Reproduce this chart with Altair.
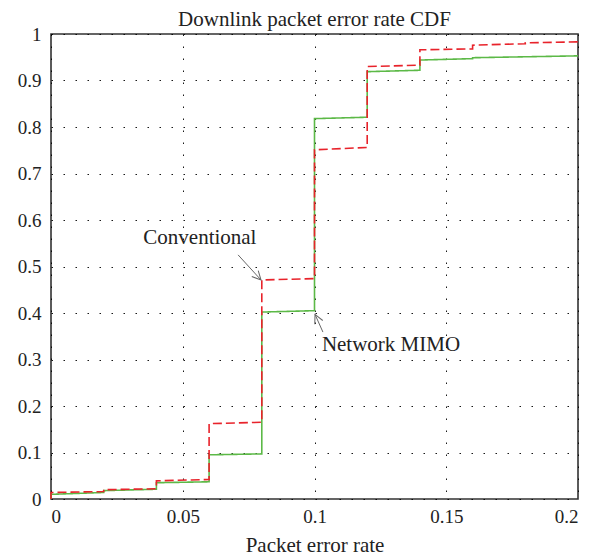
import altair as alt
import pandas as pd

# --- data ---
mimo_x = [0, 0, 0.02, 0.02, 0.04, 0.04, 0.06, 0.06, 0.08, 0.08, 0.10, 0.10, 0.12, 0.12, 0.14, 0.14, 0.16, 0.16, 0.20]
mimo_y = [0, 0.010, 0.014, 0.018, 0.021, 0.035, 0.037, 0.095, 0.097, 0.402, 0.405, 0.818, 0.821, 0.919, 0.922, 0.944, 0.947, 0.949, 0.953]

conv_x = [0, 0, 0.02, 0.02, 0.04, 0.04, 0.06, 0.06, 0.08, 0.08, 0.10, 0.10, 0.12, 0.12, 0.14, 0.14, 0.16, 0.16, 0.18, 0.18, 0.20]
conv_y = [0, 0.014, 0.016, 0.020, 0.022, 0.039, 0.042, 0.162, 0.165, 0.471, 0.474, 0.751, 0.756, 0.930, 0.933, 0.966, 0.968, 0.976, 0.979, 0.981, 0.983]

series_names = ["Network MIMO", "Conventional"]
series_colors = ["#5cb947", "#e8232b"]

label_text = ["Conventional", "Network MIMO"]
label_x = [0.0565, 0.1028]
label_y = [0.561, 0.331]
label_align = ["center", "left"]

arrow_x = [0.0710, 0.1032]
arrow_y = [0.525, 0.359]
arrow_tip_x = [0.0797, 0.1002]
arrow_tip_y = [0.471, 0.397]
arrow_angle = [137, 335]

x_ticks = [0, 0.05, 0.1, 0.15, 0.2]
y_ticks = [0, 0.1, 0.2, 0.3, 0.4, 0.5, 0.6, 0.7, 0.8, 0.9, 1]

FONT = "Liberation Serif"
TXT = 21
NUM = 19

rows = []
for i, (x, y) in enumerate(zip(mimo_x, mimo_y)):
    rows.append({"series": series_names[0], "x": x, "y": y, "order": i})
for i, (x, y) in enumerate(zip(conv_x, conv_y)):
    rows.append({"series": series_names[1], "x": x, "y": y, "order": i})
df = pd.DataFrame(rows)

xscale = alt.Scale(domain=[0, 0.2], nice=False, zero=False)
yscale = alt.Scale(domain=[0, 1], nice=False)

xaxis = alt.Axis(values=x_ticks, title="Packet error rate", labelExpr="format(datum.value, '~g')",
                 ticks=False, domain=False, gridDash=[1.5, 10.5], gridColor="#000000", gridOpacity=0.9,
                 labelPadding=8, titlePadding=8)
yaxis = alt.Axis(values=y_ticks, title=None, labelExpr="format(datum.value, '~g')",
                 ticks=False, domain=False, gridDash=[1.5, 10.5], gridColor="#000000", gridOpacity=0.9,
                 labelPadding=10)

lines = alt.Chart(df).mark_line(strokeWidth=1.6, interpolate="linear").encode(
    x=alt.X("x:Q", scale=xscale, axis=xaxis),
    y=alt.Y("y:Q", scale=yscale, axis=yaxis),
    color=alt.Color("series:N", scale=alt.Scale(domain=series_names, range=series_colors), legend=None),
    strokeDash=alt.StrokeDash("series:N", scale=alt.Scale(domain=series_names, range=[[1, 0], [9, 4]]), legend=None),
    order="order:Q",
    detail="series:N",
)

ann = pd.DataFrame({"text": label_text, "x": label_x, "y": label_y, "align": label_align})
text_left = alt.Chart(ann[ann["align"] == "center"]).mark_text(
    font=FONT, fontSize=TXT, color="#222222", align="center", baseline="middle"
).encode(x=alt.X("x:Q", scale=xscale), y=alt.Y("y:Q", scale=yscale), text="text:N")
text_right = alt.Chart(ann[ann["align"] == "left"]).mark_text(
    font=FONT, fontSize=TXT, color="#222222", align="left", baseline="middle"
).encode(x=alt.X("x:Q", scale=xscale), y=alt.Y("y:Q", scale=yscale), text="text:N")

arr = pd.DataFrame({"x": arrow_x, "y": arrow_y, "x2": arrow_tip_x, "y2": arrow_tip_y, "ang": arrow_angle})
arrow_lines = alt.Chart(arr).mark_rule(color="#666666", strokeWidth=1).encode(
    x=alt.X("x:Q", scale=xscale), y=alt.Y("y:Q", scale=yscale), x2="x2:Q", y2="y2:Q"
)
arrow_heads = alt.Chart(arr).mark_point(
    shape="M -0.55 1.1 L 0 0 L 0.55 1.1", filled=False, color="#666666", strokeWidth=1, size=256, opacity=1
).encode(
    x=alt.X("x2:Q", scale=xscale), y=alt.Y("y2:Q", scale=yscale), angle=alt.Angle("ang:Q", scale=None)
)

chart = alt.layer(lines, arrow_lines, arrow_heads, text_left, text_right).properties(
    width=527, height=465,
    title=alt.Title("Downlink packet error rate CDF", font=FONT, fontSize=TXT, fontWeight="normal",
                    color="#222222", offset=-5, anchor="middle"),
    autosize=alt.AutoSizeParams(type="none"),
    padding={"left": 43, "top": 26, "right": 16, "bottom": 58},
).configure_view(stroke="#333333", strokeWidth=1.6).configure_axis(
    labelFont=FONT, labelFontSize=NUM, labelColor="#222222",
    titleFont=FONT, titleFontSize=TXT, titleColor="#222222", titleFontWeight="normal",
)

chart.save("out.html", embed_options={"renderer": "svg", "actions": False})
